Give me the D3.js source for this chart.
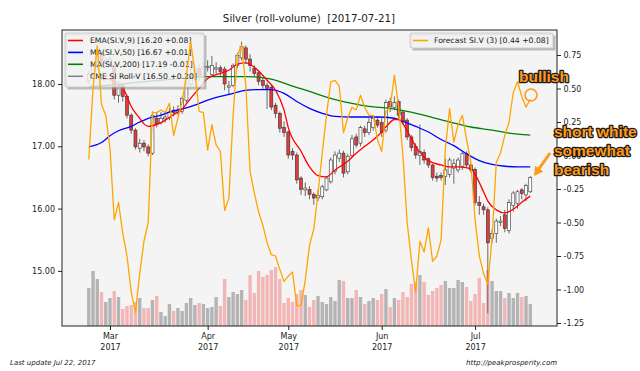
<!DOCTYPE html>
<html>
<head>
<meta charset="utf-8">
<script src="https://cdn.jsdelivr.net/npm/d3@7"></script>
<style>
body { margin: 0; background: #fff; }
text { font-family: "DejaVu Sans", sans-serif; fill: #1a1a1a; }
.note { font-family: "Liberation Sans", Arial, sans-serif; font-weight: bold; font-size: 15.5px;
        fill: #ff9a1a; stroke: #1a1a1a; stroke-width: 2.6px; paint-order: stroke; stroke-linejoin: round; }
</style>
</head>
<body>
<svg id="chart" width="640" height="371"></svg>
<script>
// trading days (2017), one list per month
var febDays = [22,23,24,27,28];
var marDays = [1,2,3,6,7,8,9,10,13,14,15,16,17,20,21,22,23,24,27,28,29,30,31];
var aprDays = [3,4,5,6,7,10,11,12,13,17,18,19,20,21,24,25,26,27,28];
var mayDays = [1,2,3,4,5,8,9,10,11,12,15,16,17,18,19,22,23,24,25,26,30,31];
var junDays = [1,2,5,6,7,8,9,12,13,14,15,16,19,20,21,22,23,26,27,28,29,30];
var julDays = [3,5,6,7,10,11,12,13,14,17,18,19,20,21];
var monthNames = ["Jan","Feb","Mar","Apr","May","Jun","Jul","Aug","Sep","Oct","Nov","Dec"];

// CME SI roll-volume candles
var openP = [18.05,18.15,18.28,18.50,18.33,18.32,18.30,17.82,17.98,17.80,
  17.50,17.26,16.97,17.05,16.99,16.89,17.45,17.38,17.44,17.46,
  17.58,17.54,17.56,17.74,18.00,18.10,18.25,18.12,18.26,18.15,
  18.24,18.26,18.24,17.95,17.98,18.30,18.42,18.58,18.40,18.25,
  18.18,18.06,17.98,17.95,17.66,17.53,17.30,17.23,16.92,16.86,
  16.49,16.30,16.31,16.23,16.17,16.19,16.30,16.43,16.60,16.81,
  16.89,16.59,16.85,17.15,17.05,17.28,17.22,17.30,17.42,17.38,
  17.26,17.72,17.62,17.72,17.55,17.42,17.15,17.00,16.85,16.90,
  16.80,16.70,16.52,16.53,16.52,16.55,16.65,16.62,16.68,16.88,
  16.70,16.63,16.10,16.03,15.98,15.52,15.60,15.78,15.90,15.65,
  16.05,16.08,16.30,16.22,16.27];
var highP = [18.22,18.32,18.55,18.52,18.42,18.45,18.35,18.05,18.02,17.83,
  17.53,17.29,17.12,17.10,17.03,17.56,17.55,17.55,17.52,17.62,
  17.64,17.66,17.80,18.05,18.25,18.30,18.32,18.35,18.38,18.45,
  18.35,18.30,18.28,18.05,18.33,18.50,18.68,18.62,18.48,18.30,
  18.22,18.10,18.02,17.98,17.70,17.56,17.40,17.25,16.97,16.90,
  16.52,16.42,16.36,16.26,16.30,16.38,16.52,16.82,16.92,16.95,
  16.93,16.88,17.18,17.20,17.33,17.33,17.45,17.50,17.48,17.45,
  17.75,17.78,17.80,17.75,17.58,17.45,17.18,17.05,17.35,16.95,
  16.82,16.72,16.58,16.58,16.80,16.82,16.80,16.82,16.92,16.92,
  16.72,16.66,16.20,16.08,16.02,15.66,15.84,15.88,15.98,16.15,
  16.28,16.30,16.33,16.40,16.52];
var lowP = [18.00,18.10,18.22,18.30,18.28,18.28,17.75,17.70,17.72,17.45,
  17.20,16.95,16.90,16.92,16.84,16.86,17.30,17.35,17.38,17.42,
  17.48,17.50,17.52,17.70,17.95,18.05,18.05,18.08,18.20,18.12,
  18.15,18.12,17.90,17.82,17.95,18.25,18.38,18.32,18.20,18.12,
  17.98,17.92,17.60,17.58,17.45,17.22,17.15,16.80,16.78,16.40,
  16.22,16.20,16.15,16.06,16.12,16.15,16.28,16.40,16.55,16.75,
  16.50,16.55,16.82,16.98,17.00,17.15,17.18,17.25,17.30,17.15,
  17.22,17.55,17.58,17.45,17.35,17.10,16.92,16.80,16.70,16.72,
  16.65,16.45,16.43,16.45,16.38,16.50,16.40,16.58,16.62,16.65,
  16.58,16.05,15.90,15.90,14.32,15.45,15.45,15.72,15.62,15.60,
  15.95,16.00,16.15,16.12,16.25];
var closeP = [18.15,18.28,18.50,18.36,18.38,18.40,17.82,17.96,17.80,17.50,
  17.26,16.99,17.05,16.99,16.89,17.50,17.36,17.45,17.47,17.55,
  17.54,17.58,17.77,18.00,18.12,18.22,18.12,18.28,18.28,18.30,
  18.26,18.20,18.00,17.97,18.30,18.46,18.60,18.40,18.30,18.17,
  18.04,17.98,17.93,17.63,17.53,17.29,17.22,16.86,16.86,16.46,
  16.31,16.33,16.23,16.17,16.21,16.35,16.49,16.78,16.86,16.89,
  16.57,16.84,17.12,17.02,17.30,17.22,17.38,17.45,17.34,17.22,
  17.70,17.63,17.70,17.50,17.40,17.15,16.98,16.86,16.92,16.78,
  16.70,16.50,16.49,16.50,16.62,16.78,16.72,16.78,16.88,16.70,
  16.62,16.10,16.05,15.98,15.45,15.60,15.80,15.80,15.68,16.10,
  16.25,16.27,16.24,16.37,16.50];
var volume = [38,55,47,34,24,28,35,29,17,20,
  21,24,28,18,18,26,30,14,10,22,
  15,18,15,23,28,21,23,22,18,19,
  29,20,47,29,34,32,36,26,51,33,
  55,49,51,56,59,47,23,28,24,32,
  36,31,19,26,30,24,22,29,25,46,
  45,28,28,36,29,22,25,28,26,32,
  37,19,28,26,34,29,42,44,51,44,
  31,35,38,41,45,38,38,46,44,39,
  25,32,48,23,56,45,35,35,28,33,
  28,33,29,30,22];

// moving averages, [bar index, price]
var ema9 = [[3,18.07],[5,18.08],[6,18.02],[8,17.94],[9,17.80],[10,17.64],[12,17.45],[13,17.36],[14,17.32],
  [15,17.33],[17,17.38],[18,17.42],[20,17.51],[22,17.60],[24,17.77],[26,17.93],[28,18.09],[31,18.17],
  [33,18.22],[35,18.32],[37,18.34],[39,18.27],[40,18.21],[42,18.06],[44,17.90],[46,17.58],[47,17.30],
  [50,16.92],[52,16.67],[54,16.53],[56,16.51],[58,16.62],[61,16.76],[63,16.89],[65,17.00],[68,17.16],
  [70,17.31],[72,17.43],[73,17.43],[75,17.25],[77,17.00],[80,16.77],[83,16.70],[85,16.67],[87,16.67],
  [90,16.64],[91,16.55],[93,16.27],[94,16.12],[96,15.98],[98,15.93],[99,15.95],[101,16.04],[102,16.10],[104,16.20]];
var ma50 = [[0,16.99],[3,17.06],[5,17.17],[7,17.25],[10,17.32],[12,17.39],[14,17.45],[17,17.50],[19,17.55],
  [22,17.60],[25,17.66],[28,17.74],[31,17.80],[34,17.85],[37,17.90],[40,17.91],[43,17.91],[46,17.85],
  [49,17.72],[52,17.61],[55,17.53],[58,17.48],[62,17.47],[68,17.47],[72,17.45],[74,17.40],[77,17.32],
  [80,17.23],[83,17.11],[86,17.01],[89,16.88],[92,16.77],[95,16.71],[98,16.68],[101,16.67],[104,16.67]];
var ma200 = [[0,17.96],[5,17.98],[12,18.03],[20,18.08],[28,18.12],[33,18.12],[37,18.12],[42,18.09],
  [45,18.04],[47,17.99],[52,17.88],[57,17.77],[62,17.69],[66,17.64],[71,17.61],[75,17.56],[80,17.48],
  [85,17.39],[90,17.31],[95,17.26],[99,17.21],[104,17.18]];

// forecast SI.V (3), right axis
var forecast = [-0.03,0.50,0.82,0.38,0.30,0.05,-0.48,-0.35,-0.58,-0.75,
  -1.02,-1.17,-0.88,-0.64,-0.50,0.32,0.32,0.34,0.32,0.39,
  0.15,0.28,0.40,0.60,0.85,0.62,0.33,0.32,0.04,0.23,
  0.08,0.03,-0.41,-0.32,0.30,0.75,0.82,0.52,-0.12,-0.28,
  -0.42,-0.52,-0.65,-0.74,-0.75,-0.85,-0.94,-0.90,-0.87,-1.12,
  -1.12,-0.93,-0.67,-0.55,-0.28,0.02,0.30,0.55,0.56,0.52,
  0.17,0.28,0.36,0.34,0.45,0.36,0.30,0.30,0.12,0.03,
  0.33,0.36,0.60,0.36,0.00,-0.50,-0.78,-1.02,-0.64,-0.72,
  -0.54,-0.79,-0.75,-0.63,0.05,0.35,0.10,0.23,0.30,0.12,
  -0.05,-0.48,-0.75,-0.88,-0.96,-0.62,-0.05,0.02,0.15,0.25,
  0.47,0.55,0.44,0.36,0.42];

var leftTicks = [15, 16, 17, 18];
var rightTicks = [-1.25, -1.00, -0.75, -0.50, -0.25, 0.00, 0.25, 0.50, 0.75];
var legendMain = [
  {label: "EMA(SI.V,9) [16.20 +0.08]", color: "#ff0000", w: 1.6},
  {label: "MA(SI.V,50) [16.67 +0.01]", color: "#0000ff", w: 1.6},
  {label: "MA(SI.V,200) [17.19 -0.01]", color: "#008000", w: 1.6},
  {label: "CME SI Roll-V [16.50 +0.20]", color: "#222222", w: 0.8}
];
var legendForecast = [{label: "Forecast SI.V (3) [0.44 +0.08]", color: "#ffa500", w: 1.6}];

var dates = [];
[febDays, marDays, aprDays, mayDays, junDays, julDays].forEach(function(days, k){
	days.forEach(function(d){
		dates.push(new Date(2017, k + 1, d));
	});
});
var candles = dates.map(function(d, i){
	return {i: i, date: d, o: openP[i], h: highP[i], l: lowP[i], c: closeP[i], v: volume[i]};
});
var monthTicks = [];
dates.forEach(function(d, i){
	if (i > 0 && d.getMonth() != dates[i - 1].getMonth()) monthTicks.push(i);
});

var plot = {l: 62, r: 557, t: 30, b: 326};
var x = d3.scaleLinear().domain([-6.31, 110.3]).range([plot.l, plot.r]);
var y = d3.scaleLinear().domain([14.1156, 18.8668]).range([plot.b, plot.t]);
var yF = d3.scaleLinear().domain([-1.2724, 0.9366]).range([plot.b, plot.t]);
var yV = d3.scaleLinear().domain([0, 296]).range([plot.b, plot.t]);

var svg = d3.select("#chart");
svg.append("rect").attr("width", 640).attr("height", 371).attr("fill", "#fff");
svg.append("defs").append("clipPath").attr("id", "clip")
	.append("rect")
	.attr("x", plot.l).attr("y", plot.t)
	.attr("width", plot.r - plot.l).attr("height", plot.b - plot.t);
svg.append("rect")
	.attr("x", plot.l).attr("y", plot.t)
	.attr("width", plot.r - plot.l).attr("height", plot.b - plot.t)
	.attr("fill", "#f4f4f4");

var g = svg.append("g").attr("clip-path", "url(#clip)");

// volume bars
g.selectAll(".vol")
	.data(candles)
	.enter()
	.append("rect")
	.attr("class", "vol")
	.attr("x", function(d){ return x(d.i) - 1.7; })
	.attr("width", 3.4)
	.attr("y", function(d){ return yV(d.v); })
	.attr("height", function(d){ return yV(0) - yV(d.v); })
	.attr("fill", function(d){ return d.c < d.o ? "#f2b6b6" : "#b4b4b4"; });

// candles
g.selectAll(".wick")
	.data(candles)
	.enter()
	.append("line")
	.attr("class", "wick")
	.attr("x1", function(d){ return x(d.i); })
	.attr("x2", function(d){ return x(d.i); })
	.attr("y1", function(d){ return y(d.h); })
	.attr("y2", function(d){ return y(d.l); })
	.attr("stroke", "#6a6a6a")
	.attr("stroke-width", 1);
g.selectAll(".body")
	.data(candles)
	.enter()
	.append("rect")
	.attr("class", "body")
	.attr("x", function(d){ return x(d.i) - 1.5; })
	.attr("width", 3)
	.attr("y", function(d){ return y(Math.max(d.o, d.c)); })
	.attr("height", function(d){ return Math.max(0.8, Math.abs(y(d.o) - y(d.c))); })
	.attr("fill", function(d){ return d.c < d.o ? "#e23b3b" : "#ffffff"; })
	.attr("stroke", "#333")
	.attr("stroke-width", 0.6);

// moving averages
var maLine = d3.line()
	.x(function(d){ return x(d[0]); })
	.y(function(d){ return y(d[1]); })
	.curve(d3.curveMonotoneX);
[[ma200, "#008000"], [ma50, "#0000ff"], [ema9, "#ff0000"]].forEach(function(s){
	g.append("path")
		.attr("d", maLine(s[0]))
		.attr("fill", "none")
		.attr("stroke", s[1])
		.attr("stroke-width", 1.3);
});

function drawLegend(box, rows, textX){
	var lg = svg.append("g");
	var bx = box.x, by = box.y, bw = box.w, bh = box.h;
	lg.append("path")
		.attr("d", "M" + (bx + 2.5) + "," + (by + 2.5) + "h" + bw + "v" + bh + "h" + (-bw) + "Z" +
			"M" + bx + "," + by + "h" + bw + "v" + bh + "h" + (-bw) + "Z")
		.attr("fill-rule", "evenodd")
		.attr("fill", "#8c8c8c")
		.attr("opacity", 0.55);
	lg.append("rect")
		.attr("x", bx).attr("y", by).attr("width", bw).attr("height", bh)
		.attr("rx", 2)
		.attr("fill", "#f2f2f2").attr("fill-opacity", 0.82)
		.attr("stroke", "#c8c8c8").attr("stroke-width", 0.8);
	rows.forEach(function(r, k){
		var ry = box.row0 + k * box.step;
		lg.append("line")
			.attr("x1", box.lineX).attr("x2", box.lineX + 15)
			.attr("y1", ry).attr("y2", ry)
			.attr("stroke", r.color).attr("stroke-width", r.w);
		lg.append("text")
			.attr("x", textX).attr("y", ry + 2.8)
			.attr("font-size", "7.7px")
			.text(r.label);
	});
}

drawLegend({x: 65, y: 33, w: 139, h: 54, lineX: 68, row0: 40.5, step: 11.9}, legendMain, 90);

// forecast line on the twin axis, above the first legend
var fLine = d3.line()
	.x(function(d, i){ return x(i); })
	.y(function(d){ return yF(d); });
svg.append("g").attr("clip-path", "url(#clip)")
	.append("path")
	.attr("d", fLine(forecast))
	.attr("fill", "none")
	.attr("stroke", "#ffa500")
	.attr("stroke-width", 1.3)
	.attr("stroke-linejoin", "round");

drawLegend({x: 410, y: 33, w: 143, h: 15, lineX: 413, row0: 40.5, step: 12}, legendForecast, 434);

// frame
svg.append("rect")
	.attr("x", plot.l).attr("y", plot.t)
	.attr("width", plot.r - plot.l).attr("height", plot.b - plot.t)
	.attr("fill", "none").attr("stroke", "#222").attr("stroke-width", 1);

// axes
var fmt = function(d){ return d.toFixed(2); };
var axL = svg.append("g")
	.attr("transform", "translate(" + plot.l + ",0)")
	.call(d3.axisLeft(y).tickValues(leftTicks).tickFormat(fmt).tickSize(4).tickPadding(3));
var axR = svg.append("g")
	.attr("transform", "translate(" + plot.r + ",0)")
	.call(d3.axisRight(yF).tickValues(rightTicks).tickFormat(fmt).tickSize(4).tickPadding(2.5));
var axB = svg.append("g")
	.attr("transform", "translate(0," + plot.b + ")")
	.call(d3.axisBottom(x).tickValues(monthTicks).tickFormat("").tickSize(4));
[axL, axR, axB].forEach(function(a){
	a.select(".domain").remove();
	a.selectAll(".tick line").attr("stroke", "#222");
	a.selectAll(".tick text").attr("font-family", "DejaVu Sans").attr("font-size", "8px").attr("fill", "#1a1a1a");
});
axB.selectAll(".tick").each(function(i){
	var t = d3.select(this).append("text")
		.attr("text-anchor", "middle")
		.attr("font-family", "DejaVu Sans")
		.attr("font-size", "8px")
		.attr("fill", "#1a1a1a");
	t.append("tspan").attr("x", 0).attr("y", 13).text(monthNames[dates[i].getMonth()]);
	t.append("tspan").attr("x", 0).attr("y", 23.5).text(dates[i].getFullYear());
});

// title and footers
svg.append("text")
	.attr("x", 309).attr("y", 22)
	.attr("text-anchor", "middle")
	.attr("font-size", "10.3px")
	.style("white-space", "pre")
	.text("Silver (roll-volume)  [2017-07-21]");
svg.append("text")
	.attr("x", 10).attr("y", 365)
	.attr("font-size", "7px").attr("font-style", "italic")
	.text("Last update Jul 22, 2017");
svg.append("text")
	.attr("x", 557).attr("y", 365)
	.attr("text-anchor", "end")
	.attr("font-size", "7px").attr("font-style", "italic")
	.text("http://peakprosperity.com");

// hand annotations
svg.append("circle")
	.attr("cx", 531).attr("cy", 95).attr("r", 6)
	.attr("fill", "none").attr("stroke", "#ff9a1a").attr("stroke-width", 1.6);
var notes = [["bullish", 519, 82], ["short white", 554, 137], ["somewhat", 554, 156], ["bearish", 554, 175]];
notes.forEach(function(n){
	svg.append("text").attr("class", "note").attr("x", n[1]).attr("y", n[2]).text(n[0]);
});
var a0 = [550, 153], a1 = [534, 176];
var dx = a1[0] - a0[0], dy = a1[1] - a0[1], len = Math.sqrt(dx * dx + dy * dy);
var ux = dx / len, uy = dy / len;
var bx = a1[0] - 9 * ux, by = a1[1] - 9 * uy;
svg.append("line")
	.attr("x1", a0[0]).attr("y1", a0[1]).attr("x2", bx).attr("y2", by)
	.attr("stroke", "#ff9a1a").attr("stroke-width", 3);
svg.append("path")
	.attr("d", "M" + a1[0] + "," + a1[1] +
		" L" + (bx - 5 * uy) + "," + (by + 5 * ux) +
		" L" + (bx + 5 * uy) + "," + (by - 5 * ux) + "Z")
	.attr("fill", "#ff9a1a");
</script>
</body>
</html>
